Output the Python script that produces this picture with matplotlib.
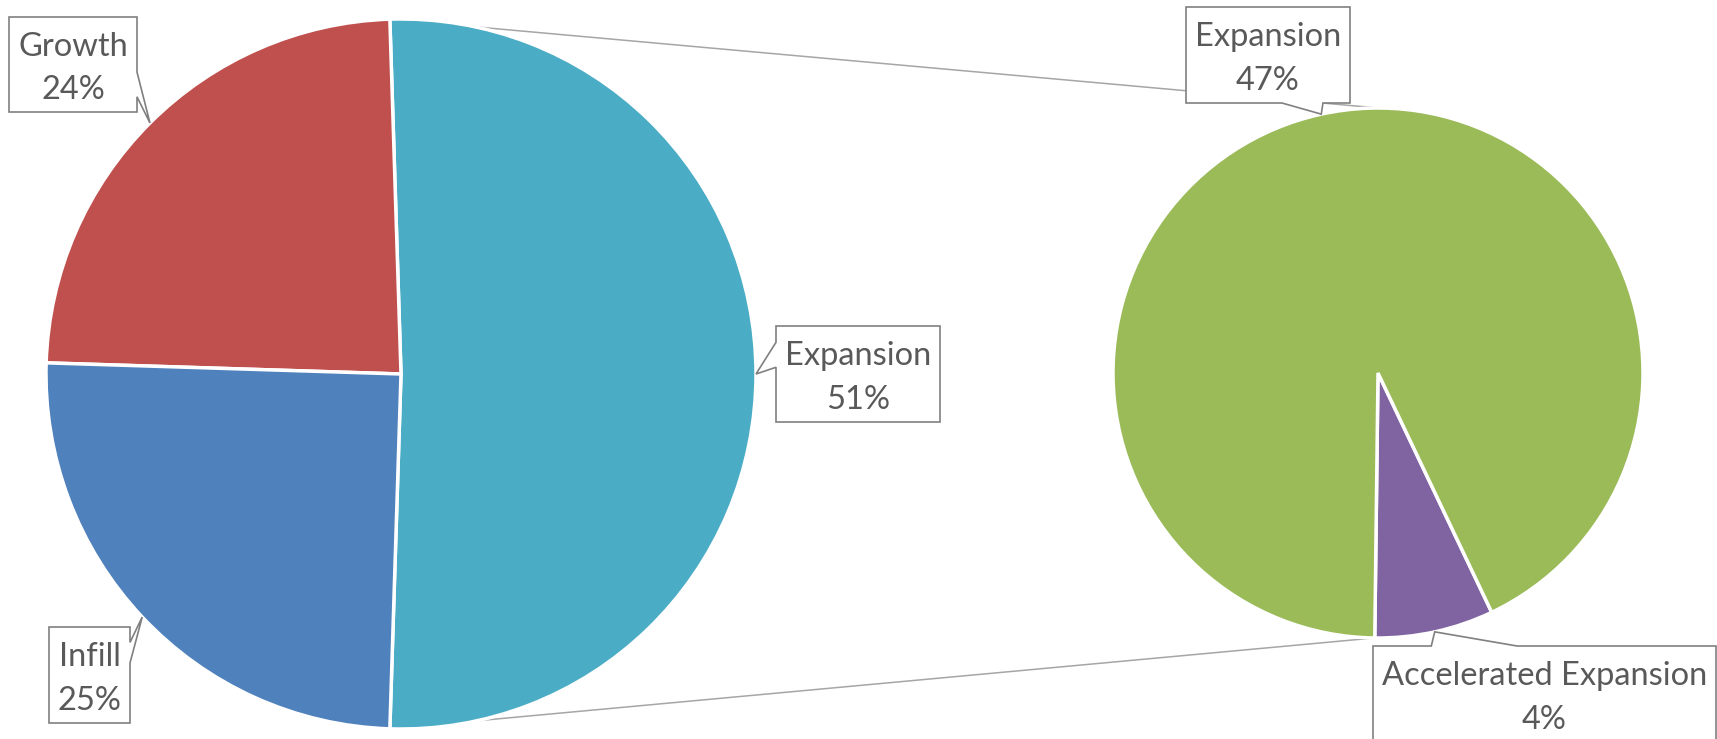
import matplotlib
matplotlib.use('Agg')
import matplotlib.pyplot as plt
import numpy as np
from matplotlib.patches import Polygon

# ---- data ----
main_labels = ['Expansion', 'Growth', 'Infill']
main_values = [51.0, 24.0, 25.0]
main_pct_text = ['51%', '24%', '25%']
main_colors = ['#4BACC6', '#C0504D', '#4F81BD']

sec_labels = ['Expansion', 'Accelerated Expansion']
sec_values = [47.3, 3.7]
sec_pct_text = ['47%', '4%']
sec_colors = ['#9BBB59', '#8064A2']

W, H = 1717, 739
fig = plt.figure(figsize=(W / 100, H / 100), dpi=100)
ax = fig.add_axes([0, 0, 1, 1])

FONT = ['Lato', 'DejaVu Sans']
TXT = '#595959'
EDGE = '#808080'

c1 = (401, H - 374); r1 = 355
c2 = (1378, H - 373); r2 = 265

# main pie: first slice (aggregated Expansion) centred on the right
f0 = main_values[0] / sum(main_values)
start1 = -f0 * 180
w1, _ = ax.pie(main_values, colors=main_colors, center=c1, radius=r1,
               startangle=start1, counterclock=True,
               wedgeprops=dict(edgecolor='white', linewidth=2.5), frame=True)

# secondary pie
start2 = -90.7
w2, _ = ax.pie(sec_values[::-1], colors=sec_colors[::-1], center=c2, radius=r2,
               startangle=start2, counterclock=True,
               wedgeprops=dict(edgecolor='white', linewidth=2.5), frame=True)
ax.set_xlim(0, W)
ax.set_ylim(0, H)
ax.set_aspect('equal')
ax.axis('off')

# connector lines
a_top = np.deg2rad(w1[0].theta2)
a_bot = np.deg2rad(w1[0].theta1)
ax.plot([c1[0] + r1 * np.cos(a_top), c2[0]], [c1[1] + r1 * np.sin(a_top), c2[1] + r2],
        color='#A6A6A6', lw=1.1, zorder=0)
ax.plot([c1[0] + r1 * np.cos(a_bot), c2[0] - 4], [c1[1] + r1 * np.sin(a_bot), c2[1] - r2],
        color='#A6A6A6', lw=1.1, zorder=0)


def tip_of(wedge, c, r):
    a = np.deg2rad((wedge.theta1 + wedge.theta2) / 2)
    return (c[0] + r * np.cos(a), c[1] + r * np.sin(a))


def callout(box, side, fr, tip, text):
    x0, y0d, x1, y1d = box
    y0, y1 = H - y0d, H - y1d  # y0 top (up coords), y1 bottom
    w, h = x1 - x0, y0 - y1
    if side == 'right':
        pts = [(x0, y0), (x1, y0), (x1, y0 - fr[0] * h), tip, (x1, y0 - fr[1] * h), (x1, y1), (x0, y1)]
    elif side == 'left':
        pts = [(x0, y0), (x1, y0), (x1, y1), (x0, y1), (x0, y0 - fr[1] * h), tip, (x0, y0 - fr[0] * h)]
    elif side == 'top':
        pts = [(x0, y0), (x0 + fr[0] * w, y0), tip, (x0 + fr[1] * w, y0), (x1, y0), (x1, y1), (x0, y1)]
    else:
        pts = [(x0, y0), (x1, y0), (x1, y1), (x0 + fr[1] * w, y1), tip, (x0 + fr[0] * w, y1), (x0, y1)]
    ax.add_patch(Polygon(pts, closed=True, facecolor='white', edgecolor=EDGE, lw=1.2, zorder=5,
                         clip_on=False))
    ax.text((x0 + x1) / 2, (y0 + y1) / 2 - 4, text, ha='center', va='center', fontsize=23.5,
            color=TXT, family=FONT, linespacing=1.58, zorder=6)


# main labels: Expansion, Growth, Infill
callout((776, 326, 940, 422), 'left', (0.17, 0.43), tip_of(w1[0], c1, r1),
        f'{main_labels[0]}\n{main_pct_text[0]}')
callout((9, 17, 137, 112), 'right', (0.58, 0.84), tip_of(w1[1], c1, r1),
        f'{main_labels[1]}\n{main_pct_text[1]}')
callout((49, 627, 130, 723), 'right', (0.16, 0.375), tip_of(w1[2], c1, r1),
        f'{main_labels[2]}\n{main_pct_text[2]}')
# secondary labels (wedges drawn in reversed order)
callout((1186, 7, 1350, 103), 'bottom', (0.585, 0.835), tip_of(w2[1], c2, r2),
        f'{sec_labels[0]}\n{sec_pct_text[0]}')
callout((1373, 646, 1716, 742), 'top', (0.17, 0.42), tip_of(w2[0], c2, r2),
        f'{sec_labels[1]}\n{sec_pct_text[1]}')

fig.savefig('out.png', dpi=100, facecolor='white')
